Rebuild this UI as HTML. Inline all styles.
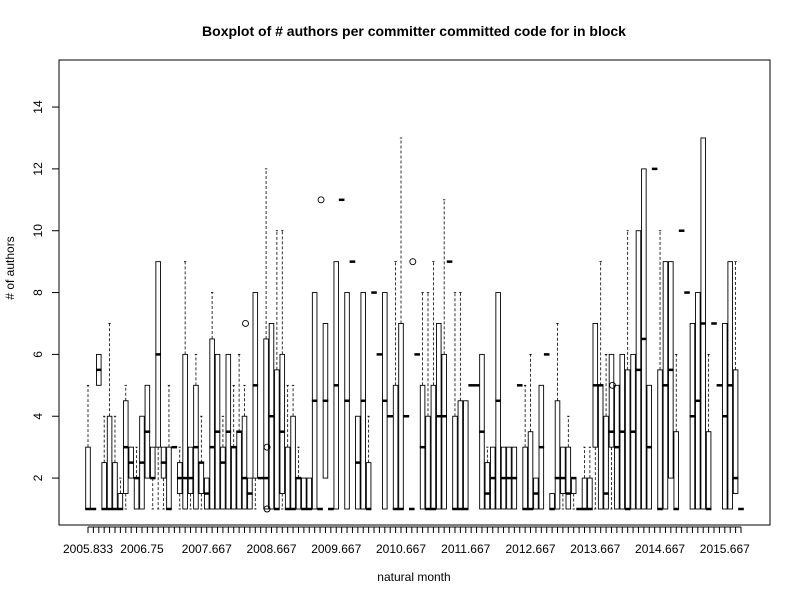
<!DOCTYPE html>
<html><head><meta charset="utf-8"><style>
body{margin:0;background:#fff}
svg text{font-family:"Liberation Sans",sans-serif}
</style></head><body>
<svg id="chart" width="800" height="600" xmlns="http://www.w3.org/2000/svg">
<rect width="800" height="600" fill="#fff"/>
<text x="414" y="36" font-size="14" font-weight="bold" text-anchor="middle">Boxplot of # authors per committer committed code for in block</text>
<text x="414" y="581" font-size="12" text-anchor="middle">natural month</text>
<text x="14" y="268" font-size="12" text-anchor="middle" transform="rotate(-90 14 268)"># of authors</text>
<rect x="59" y="60" width="711" height="465" fill="none" stroke="#000"/>
<g id="marks"></g>
</svg>
<script>
const tickValues=[2,4,6,8,10,12,14];
const labelNames=["2005.833","2006.75","2007.667","2008.667","2009.667","2010.667","2011.667","2012.667","2013.667","2014.667","2015.667"];
const labelIndex=[0,10,22,34,46,58,70,82,94,106,118];
// each: [low whisker, q1, median, q3, high whisker]
const lows=[],q1s=[],meds=[],q3s=[],highs=[];
const stats=[
[1,1,1,3,5],[1,1,1,1,1],[5,5,5.5,6,6],[1,1,1,2.5,4],[1,1,1,4,7],[1,1,1,2.5,4],[1,1,1,1.5,2],[1,1.5,3,4.5,5],[2,2,2.5,3,3],[1,1,2,2,3],
[1,1,2.5,4,4],[2,2,3.5,5,5],[1,2,2,3,3],[1,3,6,9,9],[1,2,2.5,3,3],[1,1,1,3,5],[3,3,3,3,3],[1,1.5,2,2.5,3],[1,1,2,6,9],[1,1.5,2,3,3],
[1,1,3,5,6],[1,1.5,2.5,2.5,4],[1,1,1.5,2,2],[1,1,3,6.5,8],[1,1,3.5,6,6],[1,1,2.5,3,4],[1,1,3.5,6,6],[1,1,3,3,5],[1,1,3.5,3.5,6],[1,1,2,4,5],
[1,1,1.5,2,2],[1,2,5,8,8],[2,2,2,2,2],[1,1,2,6.5,12],[1,1,4,7,7],[1,1,1,5.5,10],[1,1.5,3.5,6,10],[1,1,1,3,5],[1,1,1,4,5],[1,1,2,2,3],
[1,1,1,2,2],[1,1,1,2,2],[1,1,4.5,8,8],[1,1,1,1,1],[2,2,4.5,7,7],[1,1,1,1,1],[1,1,5,9,9],[11,11,11,11,11],[1,1,4.5,8,8],[9,9,9,9,9],
[1,1,2.5,4,4],[1,1,4.5,8,8],[1,1,1,2.5,4],[8,8,8,8,8],[6,6,6,6,6],[1,1,4.5,8,8],[4,4,4,4,4],[1,1,1,5,9],[1,1,1,7,13],[4,4,4,4,4],
[1,1,1,1,1],[6,6,6,6,6],[1,1,3,5,8],[1,1,1,4,8],[1,1,1,5,9],[1,1,4,7,7],[1,1,4,6,11],[9,9,9,9,9],[1,1,1,4,8],[1,1,1,4.5,8],
[1,1,1,4.5,4.5],[5,5,5,5,5],[5,5,5,5,5],[1,1,3.5,6,6],[1,1,1.5,2.5,3],[1,1,2,3,3],[1,1,4.5,8,8],[1,1,2,3,3],[1,1,2,3,3],[1,1,2,3,3],
[5,5,5,5,5],[1,1,1,3,5],[1,1,1,3.5,6],[1,1,1.5,2,2],[1,1,3,5,5],[6,6,6,6,6],[1,1,1,1.5,1.5],[1,1,2,4.5,7],[1,1.5,2,3,3],[1,1,1.5,3,4],
[1,1.5,2,2,2],[1,1,1,1,1],[1,1,1,2,3],[1,1,1,2,3],[1,3,5,7,7],[1,1,5,5,9],[1,1,1.5,4,6],[1,3,3.5,6,6],[1,1,3,5,5],[1,1,3.5,6,6],
[1,1,1,5.5,10],[1,1,3.5,6,6],[1,1,5.5,10,10],[1,1,6.5,12,12],[1,1,3,5,5],[12,12,12,12,12],[1,1,1,5.5,10],[1,1,5,9,9],[2,2,5.5,9,9],[1,1,1,3.5,6],
[10,10,10,10,10],[8,8,8,8,8],[1,1,4,7,7],[1,1,4.5,8,8],[1,1,7,13,13],[1,1,1,3.5,6],[7,7,7,7,7],[5,5,5,5,5],[1,1,4,7,7],[1,1,5,9,9],
[1.5,1.5,2,5.5,9],[1,1,1,1,1]];
stats.forEach(s=>{lows.push(s[0]);q1s.push(s[1]);meds.push(s[2]);q3s.push(s[3]);highs.push(s[4]);});
const outlierIdx=[29,33,33,43,60,97];
const outlierVal=[7,3,1,11,9,5];

const NS="http://www.w3.org/2000/svg";
const g=document.getElementById('marks');
const n=meds.length;
const x0=88,x1=741;
function xs(i){return x0+i*(x1-x0)/(n-1);}
function ys(v){return 509-(v-1)*30.92;}
function mk(tag,attrs,parent){const e=document.createElementNS(NS,tag);for(const k in attrs)e.setAttribute(k,attrs[k]);(parent||g).appendChild(e);return e;}

// y axis
let ax=mk('line',{x1:59,x2:59,y1:ys(2),y2:ys(14),stroke:'#000'});


tickValues.forEach(v=>{
  const t=mk('line',{x1:52,x2:59,y1:ys(v),y2:ys(v),stroke:'#000'});
  
  
  const l=mk('text',{x:42,y:ys(v),'font-size':12,'text-anchor':'middle',transform:`rotate(-90 42 ${ys(v)})`});
  l.textContent=v;
  
  
});
// x axis
let xa=mk('line',{x1:xs(0),x2:xs(n-1),y1:527,y2:527,stroke:'#000'});


for(let i=0;i<n;i++){
  const t=mk('line',{x1:xs(i),x2:xs(i),y1:527,y2:533,stroke:'#000'});
  
  
}
labelIndex.forEach((idx,k)=>{
  const l=mk('text',{x:xs(idx),y:553,'font-size':12,'text-anchor':'middle'});
  l.textContent=labelNames[k];
  
  
});
// boxes
const hw=2.3;
for(let i=0;i<n;i++){
  const cx=xs(i);
  const grp=mk('g',{});
  
  
  if(highs[i]>q3s[i]){
    mk('line',{x1:cx,x2:cx,y1:ys(q3s[i]),y2:ys(highs[i]),stroke:'#000','stroke-dasharray':'3,2','stroke-width':0.8},grp);
    mk('line',{x1:cx-1.2,x2:cx+1.2,y1:ys(highs[i]),y2:ys(highs[i]),stroke:'#000','stroke-width':0.8},grp);
  }
  if(lows[i]<q1s[i]){
    mk('line',{x1:cx,x2:cx,y1:ys(q1s[i]),y2:ys(lows[i]),stroke:'#000','stroke-dasharray':'3,2','stroke-width':0.8},grp);
    mk('line',{x1:cx-1.2,x2:cx+1.2,y1:ys(lows[i]),y2:ys(lows[i]),stroke:'#000','stroke-width':0.8},grp);
  }
  if(q3s[i]>q1s[i]){
    mk('rect',{x:cx-hw,y:ys(q3s[i]),width:hw*2,height:ys(q1s[i])-ys(q3s[i]),fill:'#fff',stroke:'#000','stroke-width':0.9},grp);
  }
  mk('line',{x1:cx-hw-0.5,x2:cx+hw+0.5,y1:ys(meds[i]),y2:ys(meds[i]),stroke:'#000','stroke-width':2.5},grp);
}
outlierIdx.forEach((idx,k)=>{
  const c=mk('circle',{cx:xs(idx)+1,cy:ys(outlierVal[k]),r:3,fill:'none',stroke:'#000','stroke-width':0.9});
  
  
});
</script>
</body></html>
